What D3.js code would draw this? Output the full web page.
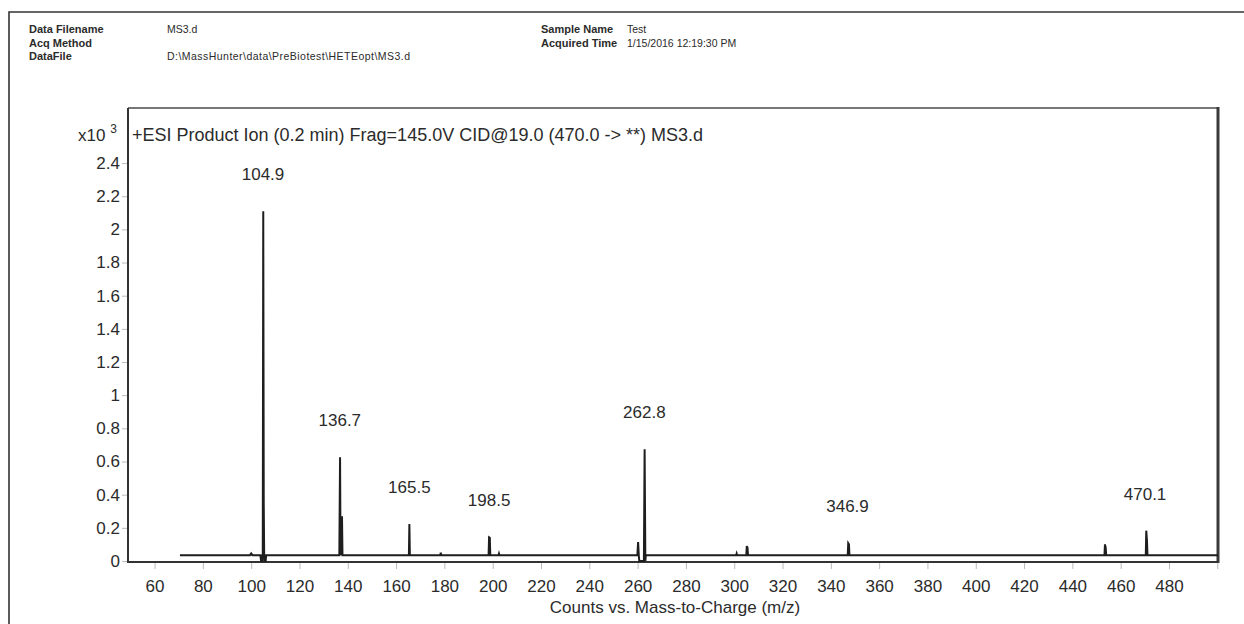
<!DOCTYPE html>
<html>
<head>
<meta charset="utf-8">
<script src="https://cdn.jsdelivr.net/npm/d3@7"></script>
<style>
  body { margin: 0; background: #fff; }
  svg { display: block; }
  text { font-family: "Liberation Sans", Arial, sans-serif; fill: #2b2b2b; }
</style>
</head>
<body>
<svg></svg>
<script>
var width = 1244;
var height = 624;

// header block
var headerLabels = ["Data Filename", "Acq Method", "DataFile"];
var headerValues = ["MS3.d", "", "D:\\MassHunter\\data\\PreBiotest\\HETEopt\\MS3.d"];
var headerLabels2 = ["Sample Name", "Acquired Time"];
var headerValues2 = ["Test", "1/15/2016 12:19:30 PM"];

var title = "+ESI Product Ion (0.2 min) Frag=145.0V CID@19.0 (470.0 -> **) MS3.d";
var xTitle = "Counts vs. Mass-to-Charge (m/z)";

// spectrum trace, counts in x10^3
var traceMz = [70.5, 99.5, 100.0, 100.5, 103.8, 104.1, 104.5, 104.6, 104.8, 105.0, 105.2, 105.4, 106.0, 106.2,
               136.5, 136.8, 137.0, 137.4, 137.6, 137.8, 165.3, 165.5, 165.7, 178.3, 178.5, 178.7,
               198.3, 198.5, 198.8, 199.0, 202.4, 202.6, 202.8, 259.9, 260.2, 260.5, 260.7, 262.6, 262.9, 263.2, 263.4,
               300.8, 301.0, 301.2, 305.0, 305.2, 305.5, 305.7, 347.0, 347.2, 347.5, 347.7,
               453.3, 453.5, 453.8, 454.0, 470.4, 470.6, 470.9, 471.1, 500.3];
var traceCounts = [0.035, 0.035, 0.045, 0.035, 0.035, 0.0, 0.0, 0.035, 0.04, 2.11, 0.35, 0.0, 0.0, 0.035,
                   0.035, 0.625, 0.04, 0.04, 0.27, 0.035, 0.035, 0.223, 0.035, 0.035, 0.05, 0.035,
                   0.035, 0.143, 0.14, 0.035, 0.035, 0.045, 0.035, 0.035, 0.115, 0.03, 0.0, 0.0, 0.674, 0.0, 0.035,
                   0.035, 0.045, 0.035, 0.035, 0.09, 0.08, 0.035, 0.035, 0.107, 0.1, 0.035,
                   0.035, 0.1, 0.08, 0.035, 0.035, 0.183, 0.12, 0.035, 0.035];

// labelled peaks
var peakMz = [104.9, 136.7, 165.5, 198.5, 262.8, 346.9, 470.1];
var peakCounts = [2.11, 0.625, 0.223, 0.143, 0.674, 0.107, 0.183];

var yTicks = [0, 0.2, 0.4, 0.6, 0.8, 1, 1.2, 1.4, 1.6, 1.8, 2, 2.2, 2.4];
var xTicks = [60, 80, 100, 120, 140, 160, 180, 200, 220, 240, 260, 280, 300, 320, 340, 360, 380, 400, 420, 440, 460, 480, 500];

var plot = { left: 128, right: 1218, top: 108, bottom: 562 };

var svg = d3.select("svg")
            .attr("width", width)
            .attr("height", height);

// outer page frame
svg.append("path")
    .attr("d", "M9,700V12H1300")
    .attr("fill", "none")
    .attr("stroke", "#333")
    .attr("stroke-width", 1.6);

var hdr = svg.append("g").style("font-size", "10.5px");
headerLabels.forEach(function(t, i){
    hdr.append("text").attr("x", 29).attr("y", 33 + i*13.5)
        .style("font-weight", "bold").style("font-size", "11px").text(t);
    var v = hdr.append("text").attr("x", 167).attr("y", 33 + i*13.5).text(headerValues[i]);
    if (i == 2) v.attr("textLength", 243).attr("lengthAdjust", "spacing");
});
headerLabels2.forEach(function(t, i){
    hdr.append("text").attr("x", 541).attr("y", 33 + i*13.5)
        .style("font-weight", "bold").style("font-size", "11px").text(t);
    hdr.append("text").attr("x", 627).attr("y", 33 + i*13.5).text(headerValues2[i]);
});

var xscale = d3.scaleLinear()
               .domain([49, 500.3])
               .range([plot.left, plot.right]);

var yscale = d3.scaleLinear()
               .domain([0, 2.732])
               .range([561, plot.top]);

var xaxis = d3.axisBottom(xscale)
              .tickValues(xTicks)
              .tickSize(6)
              .tickPadding(11)
              .tickFormat(function(d){ return d == 500 ? "" : d; });

var yaxis = d3.axisLeft(yscale)
              .tickValues(yTicks)
              .tickSize(6)
              .tickPadding(2)
              .tickFormat(d3.format("~g"));

var gx = svg.append("g")
    .attr("transform", "translate(0," + (plot.bottom + 1) + ")")
    .call(xaxis);

var gy = svg.append("g")
    .attr("transform", "translate(" + plot.left + ",0)")
    .call(yaxis);

[gx, gy].forEach(function(g){
    g.select(".domain").remove();
    g.selectAll(".tick line").attr("stroke", "#bbb");
    g.selectAll(".tick text")
        .attr("fill", "#2b2b2b")
        .style("font-family", "'Liberation Sans', Arial, sans-serif")
        .style("font-size", "17px");
});

// plot frame
svg.append("line").attr("x1", plot.left).attr("x2", plot.right).attr("y1", plot.top).attr("y2", plot.top)
    .attr("stroke", "#777").attr("stroke-width", 2);
svg.append("line").attr("x1", plot.left).attr("x2", plot.left).attr("y1", plot.top).attr("y2", plot.bottom)
    .attr("stroke", "#333").attr("stroke-width", 2);
svg.append("line").attr("x1", plot.right).attr("x2", plot.right).attr("y1", plot.top - 1).attr("y2", plot.bottom + 1)
    .attr("stroke", "#3a3a3a").attr("stroke-width", 3);
svg.append("line").attr("x1", plot.left - 1).attr("x2", plot.right).attr("y1", plot.bottom).attr("y2", plot.bottom)
    .attr("stroke", "#333").attr("stroke-width", 2);

// spectrum
var trace = traceMz.map(function(m, i){ return [m, traceCounts[i]]; });
var line = d3.line()
    .x(function(d){ return xscale(d[0]); })
    .y(function(d){ return yscale(d[1]); });

svg.append("path")
    .datum(trace)
    .attr("d", line)
    .attr("fill", "none")
    .attr("stroke", "#1e1e1e")
    .attr("stroke-width", 2)
    .attr("stroke-linejoin", "miter");

// peak labels
svg.selectAll(".peak")
    .data(peakMz)
    .enter().append("text")
    .attr("class", "peak")
    .attr("x", function(d){ return xscale(d); })
    .attr("y", function(d, i){ return yscale(peakCounts[i]) - 31; })
    .attr("text-anchor", "middle")
    .style("font-size", "17px")
    .text(function(d){ return d.toFixed(1); });

// multiplier and title
var mult = svg.append("text").attr("x", 78).attr("y", 141).style("font-size", "17px");
mult.append("tspan").text("x10 ");
mult.append("tspan").attr("dy", -8).style("font-size", "12px").text("3");

svg.append("text")
    .attr("x", 132)
    .attr("y", 141)
    .style("font-size", "18px")
    .text(title);

svg.append("text")
    .attr("x", 675)
    .attr("y", 613)
    .attr("text-anchor", "middle")
    .style("font-size", "17px")
    .text(xTitle);
</script>
</body>
</html>
